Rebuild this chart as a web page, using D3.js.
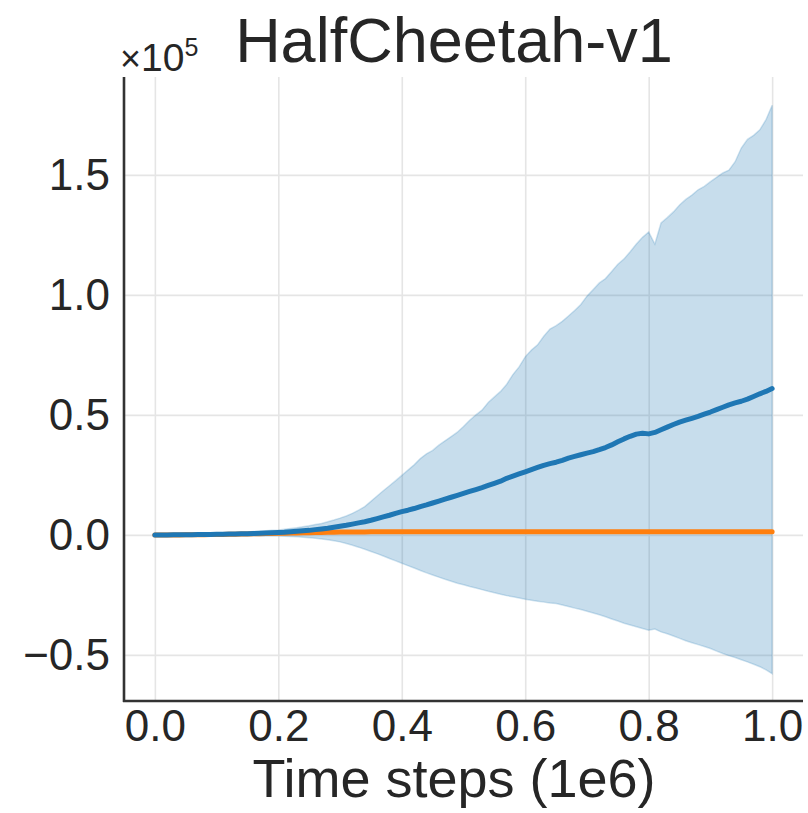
<!DOCTYPE html>
<html>
<head>
<meta charset="utf-8">
<script src="https://cdn.jsdelivr.net/npm/d3@7"></script>
<style>
  body { margin: 0; background: #fff; }
  svg { display: block; font-family: "Liberation Sans", Arial, sans-serif; }
</style>
</head>
<body>
<svg width="808" height="813"></svg>
<script>
// time steps in units of 1e6
const steps = [0.00, 0.01, 0.02, 0.03, 0.04, 0.05, 0.06, 0.07, 0.08, 0.09,
  0.10, 0.11, 0.12, 0.13, 0.14, 0.15, 0.16, 0.17, 0.18, 0.19,
  0.20, 0.21, 0.22, 0.23, 0.24, 0.25, 0.26, 0.27, 0.28, 0.29,
  0.30, 0.31, 0.32, 0.33, 0.34, 0.35, 0.36, 0.37, 0.38, 0.39,
  0.40, 0.41, 0.42, 0.43, 0.44, 0.45, 0.46, 0.47, 0.48, 0.49,
  0.50, 0.51, 0.52, 0.53, 0.54, 0.55, 0.56, 0.57, 0.58, 0.59,
  0.60, 0.61, 0.62, 0.63, 0.64, 0.65, 0.66, 0.67, 0.68, 0.69,
  0.70, 0.71, 0.72, 0.73, 0.74, 0.75, 0.76, 0.77, 0.78, 0.79,
  0.80, 0.81, 0.82, 0.83, 0.84, 0.85, 0.86, 0.87, 0.88, 0.89,
  0.90, 0.91, 0.92, 0.93, 0.94, 0.95, 0.96, 0.97, 0.98, 0.99, 1.00];

// returns in units of 1e5
const blueMean = [0.000, 0.000, 0.000, 0.001, 0.001, 0.001, 0.001, 0.002, 0.002, 0.002,
  0.003, 0.003, 0.004, 0.004, 0.005, 0.005, 0.006, 0.007, 0.008, 0.009,
  0.010, 0.011, 0.013, 0.015, 0.017, 0.019, 0.022, 0.025, 0.028, 0.032,
  0.036, 0.040, 0.045, 0.050, 0.055, 0.061, 0.068, 0.075, 0.082, 0.090,
  0.097, 0.103, 0.110, 0.118, 0.125, 0.133, 0.141, 0.149, 0.157, 0.165,
  0.173, 0.181, 0.189, 0.197, 0.206, 0.215, 0.224, 0.236, 0.245, 0.254,
  0.263, 0.272, 0.281, 0.290, 0.297, 0.303, 0.311, 0.320, 0.327, 0.334,
  0.341, 0.347, 0.355, 0.364, 0.375, 0.388, 0.400, 0.411, 0.420, 0.424,
  0.421, 0.427, 0.438, 0.449, 0.460, 0.470, 0.478, 0.486, 0.494, 0.503,
  0.512, 0.522, 0.532, 0.542, 0.550, 0.557, 0.566, 0.577, 0.588, 0.598, 0.610];

const blueUpper = [0.001, 0.001, 0.002, 0.002, 0.003, 0.003, 0.004, 0.004, 0.005, 0.006,
  0.007, 0.008, 0.009, 0.010, 0.011, 0.012, 0.014, 0.015, 0.017, 0.019,
  0.021, 0.024, 0.027, 0.030, 0.034, 0.038, 0.043, 0.048, 0.055, 0.062,
  0.070, 0.079, 0.090, 0.103, 0.118, 0.140, 0.162, 0.184, 0.205, 0.226,
  0.248, 0.270, 0.292, 0.318, 0.338, 0.352, 0.374, 0.392, 0.410, 0.428,
  0.452, 0.478, 0.500, 0.520, 0.552, 0.575, 0.598, 0.628, 0.668, 0.700,
  0.742, 0.770, 0.792, 0.828, 0.858, 0.872, 0.890, 0.912, 0.935, 0.960,
  0.995, 1.022, 1.050, 1.068, 1.098, 1.128, 1.150, 1.180, 1.212, 1.240,
  1.262, 1.212, 1.300, 1.322, 1.346, 1.375, 1.398, 1.416, 1.438, 1.452,
  1.472, 1.490, 1.508, 1.520, 1.555, 1.612, 1.648, 1.665, 1.688, 1.730, 1.790];

const blueLower = [-0.001, -0.001, -0.001, -0.001, -0.001, -0.002, -0.002, -0.002, -0.002, -0.002,
  -0.002, -0.003, -0.003, -0.003, -0.003, -0.003, -0.003, -0.004, -0.004, -0.005,
  -0.005, -0.006, -0.007, -0.008, -0.010, -0.012, -0.014, -0.017, -0.020, -0.024,
  -0.029, -0.036, -0.043, -0.051, -0.060, -0.069, -0.078, -0.088, -0.098, -0.108,
  -0.118, -0.128, -0.138, -0.148, -0.158, -0.167, -0.176, -0.185, -0.193, -0.201,
  -0.208, -0.215, -0.221, -0.228, -0.235, -0.241, -0.247, -0.253, -0.258, -0.263,
  -0.268, -0.272, -0.276, -0.280, -0.284, -0.286, -0.292, -0.298, -0.305, -0.311,
  -0.318, -0.325, -0.333, -0.341, -0.350, -0.359, -0.368, -0.375, -0.383, -0.390,
  -0.397, -0.392, -0.404, -0.412, -0.421, -0.431, -0.441, -0.449, -0.457, -0.465,
  -0.473, -0.484, -0.494, -0.503, -0.511, -0.520, -0.529, -0.539, -0.549, -0.562, -0.578];

const orangeMean = [0.000, 0.000, 0.000, 0.000, 0.000, 0.001, 0.001, 0.001, 0.001, 0.002,
  0.002, 0.002, 0.003, 0.003, 0.004, 0.004, 0.005, 0.005, 0.006, 0.006,
  0.007, 0.007, 0.008, 0.008, 0.009, 0.009, 0.010, 0.010, 0.011, 0.011,
  0.012, 0.012, 0.012, 0.012, 0.012, 0.013, 0.013, 0.013, 0.013, 0.013,
  0.013, 0.013, 0.013, 0.013, 0.013, 0.013, 0.013, 0.013, 0.013, 0.013,
  0.013, 0.013, 0.013, 0.013, 0.013, 0.013, 0.013, 0.013, 0.013, 0.013,
  0.013, 0.013, 0.013, 0.013, 0.013, 0.013, 0.013, 0.013, 0.013, 0.013,
  0.013, 0.013, 0.013, 0.013, 0.013, 0.013, 0.013, 0.013, 0.013, 0.013,
  0.013, 0.013, 0.013, 0.013, 0.013, 0.013, 0.013, 0.013, 0.013, 0.013,
  0.013, 0.013, 0.013, 0.013, 0.013, 0.013, 0.013, 0.013, 0.013, 0.013, 0.013];

const xTicks = [0, 0.2, 0.4, 0.6, 0.8, 1.0];
const xTickLabels = ["0.0", "0.2", "0.4", "0.6", "0.8", "1.0"];
const yTicks = [-0.5, 0, 0.5, 1.0, 1.5];
const yTickLabels = ["\u22120.5", "0.0", "0.5", "1.0", "1.5"];

const svg = d3.select("svg");

const plotLeft = 124, plotRight = 803, plotTop = 77, plotBottom = 701;

const x = d3.scaleLinear().domain([-0.05, 1.05]).range([plotLeft, plotRight]);
const y = d3.scaleLinear().domain([-0.692, 1.908]).range([plotBottom, plotTop]);

// grid
svg.append("g")
  .attr("transform", `translate(0,${plotBottom})`)
  .call(d3.axisBottom(x).tickValues(xTicks).tickSize(-(plotBottom - plotTop)).tickFormat(""))
  .call(g => g.select(".domain").remove())
  .call(g => g.selectAll("line").attr("stroke", "#e5e5e5").attr("stroke-width", 1.6));

svg.append("g")
  .attr("transform", `translate(${plotLeft},0)`)
  .call(d3.axisLeft(y).tickValues(yTicks).tickSize(-(plotRight - plotLeft)).tickFormat(""))
  .call(g => g.select(".domain").remove())
  .call(g => g.selectAll("line").attr("stroke", "#e5e5e5").attr("stroke-width", 1.6));

const data = steps.map((s, i) => ({
  s: s, mean: blueMean[i], hi: blueUpper[i], lo: blueLower[i], orange: orangeMean[i]
}));

// shaded band
const area = d3.area()
  .x(d => x(d.s))
  .y0(d => y(d.lo))
  .y1(d => y(d.hi));

svg.append("path")
  .datum(data)
  .attr("d", area)
  .attr("fill", "#1f77b4")
  .attr("fill-opacity", 0.25)
  .attr("stroke", "#1f77b4")
  .attr("stroke-opacity", 0.2)
  .attr("stroke-width", 1.5);

// orange line
svg.append("path")
  .datum(data)
  .attr("d", d3.line().x(d => x(d.s)).y(d => y(d.orange)))
  .attr("fill", "none")
  .attr("stroke", "#ff7f0e")
  .attr("stroke-width", 5)
  .attr("stroke-linecap", "round");

// blue mean line
svg.append("path")
  .datum(data)
  .attr("d", d3.line().x(d => x(d.s)).y(d => y(d.mean)))
  .attr("fill", "none")
  .attr("stroke", "#1f77b4")
  .attr("stroke-width", 5)
  .attr("stroke-linecap", "round")
  .attr("stroke-linejoin", "round");

// tick labels
svg.append("g")
  .attr("transform", `translate(0,${plotBottom})`)
  .call(d3.axisBottom(x).tickValues(xTicks).tickSize(0).tickPadding(9)
    .tickFormat((d, i) => xTickLabels[i]))
  .call(g => g.select(".domain").remove())
  .call(g => g.selectAll("text").attr("font-size", 44).attr("fill", "#262626")
    .attr("font-family", "Liberation Sans, Arial, sans-serif"));

svg.append("g")
  .attr("transform", `translate(${plotLeft},0)`)
  .call(d3.axisLeft(y).tickValues(yTicks).tickSize(0).tickPadding(14)
    .tickFormat((d, i) => yTickLabels[i]))
  .call(g => g.select(".domain").remove())
  .call(g => g.selectAll("text").attr("font-size", 44).attr("fill", "#262626")
    .attr("font-family", "Liberation Sans, Arial, sans-serif"));

// spines
svg.append("line")
  .attr("x1", plotLeft).attr("x2", plotLeft).attr("y1", plotTop).attr("y2", plotBottom + 1)
  .attr("stroke", "#333").attr("stroke-width", 2.6);
svg.append("line")
  .attr("x1", plotLeft - 1).attr("x2", plotRight).attr("y1", plotBottom).attr("y2", plotBottom)
  .attr("stroke", "#333").attr("stroke-width", 2.6);

// title and x label
svg.append("text")
  .attr("x", 454).attr("y", 62)
  .attr("text-anchor", "middle")
  .attr("font-size", 63)
  .attr("fill", "#262626")
  .text("HalfCheetah-v1");

svg.append("text")
  .attr("x", 454).attr("y", 797)
  .attr("text-anchor", "middle")
  .attr("font-size", 54)
  .attr("fill", "#262626")
  .text("Time steps (1e6)");

// offset text x10^5
const off = svg.append("text")
  .attr("x", 120).attr("y", 71)
  .attr("fill", "#262626");
off.append("tspan").attr("font-size", 36).text("\u00d7");
off.append("tspan").attr("font-size", 39).text("10");
off.append("tspan").attr("font-size", 25).attr("dy", -15).text("5");
</script>
</body>
</html>
